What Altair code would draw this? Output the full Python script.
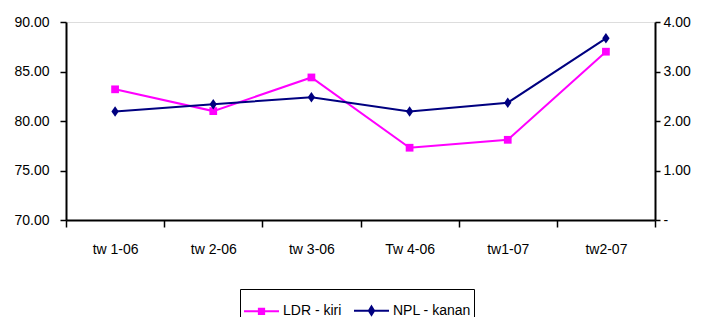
import altair as alt
import pandas as pd

categories = ["tw 1-06", "tw 2-06", "tw 3-06", "Tw 4-06", "tw1-07", "tw2-07"]
ldr = [83.2, 81.0, 84.4, 77.3, 78.1, 87.0]
npl = [2.19, 2.34, 2.48, 2.19, 2.37, 3.67]
series_names = ["LDR - kiri", "NPL - kanan"]
series_colors = ["#FF00FF", "#000080"]
left_ticks = [70, 75, 80, 85, 90]
right_ticks = [0, 1, 2, 3, 4]

wide = pd.DataFrame({"cat": categories, "ldr": ldr, "npl": npl})
long = pd.DataFrame({
    "cat": categories * 2,
    "series": [series_names[0]] * len(categories) + [series_names[1]] * len(categories),
})

FONT = "Liberation Sans"

x_enc = alt.X(
    "cat:N", sort=categories, title=None,
    scale=alt.Scale(paddingInner=0, paddingOuter=0),
    axis=alt.Axis(
        tickBand="extent", labelAngle=0, tickSize=7, labelPadding=15,
        domainColor="black", domainWidth=2, tickColor="black", tickWidth=1.5,
        labelColor="black", labelFont=FONT, labelFontSize=14, grid=False,
    ),
)

base = alt.Chart(wide)

ldr_y = alt.Y(
    "ldr:Q", title=None,
    scale=alt.Scale(domain=[70, 90], nice=False, zero=False),
    axis=alt.Axis(
        values=left_ticks, format=".2f", tickSize=6, labelPadding=11,
        domainColor="black", domainWidth=2, tickColor="black", tickWidth=1.5,
        labelColor="black", labelFont=FONT, labelFontSize=14, grid=False,
    ),
)
npl_y = alt.Y(
    "npl:Q", title=None,
    scale=alt.Scale(domain=[0, 4], nice=False),
    axis=alt.Axis(
        orient="right", values=right_ticks, tickSize=5, labelPadding=3,
        labelExpr="datum.value == 0 ? '-' : format(datum.value, '.2f')",
        domainColor="black", domainWidth=2, tickColor="black", tickWidth=1.5,
        labelColor="black", labelFont=FONT, labelFontSize=14, grid=False,
    ),
)

ldr_line = base.mark_line(color=series_colors[0], strokeWidth=2).encode(x=x_enc, y=ldr_y)
ldr_pts = base.mark_point(shape="square", filled=True, opacity=1, size=60,
                          color=series_colors[0]).encode(x=x_enc, y=ldr_y)
npl_line = base.mark_line(color=series_colors[1], strokeWidth=2).encode(x=x_enc, y=npl_y)
npl_pts = base.mark_point(shape="M0,-1L0.7,0L0,1L-0.7,0Z", filled=True, opacity=1, size=110,
                          color=series_colors[1]).encode(x=x_enc, y=npl_y)

legend_layer = alt.Chart(long).transform_filter("false").mark_point(
    filled=True, opacity=1, strokeWidth=2
).encode(
    x=alt.X("cat:N", sort=categories),
    color=alt.Color(
        "series:N",
        scale=alt.Scale(domain=series_names, range=series_colors),
        legend=alt.Legend(
            title=None, orient="none", legendX=174, legendY=267, direction="horizontal",
            symbolSize=1225, symbolStrokeWidth=2, symbolOpacity=1,
            labelFont=FONT, labelFontSize=14, labelColor="black", labelOffset=3,
            columnPadding=8, padding=3, strokeColor="black", fillColor="white",
        ),
    ),
    stroke=alt.Stroke(
        "series:N",
        scale=alt.Scale(domain=series_names, range=series_colors),
    ),
    shape=alt.Shape(
        "series:N",
        scale=alt.Scale(domain=series_names, range=[
            "M-1,0H1M-0.15,-0.15H0.15V0.15H-0.15Z",
            "M-1,0H1M0,-0.24L0.15,0L0,0.24L-0.15,0Z",
        ]),
    ),
)

left = alt.layer(ldr_line, ldr_pts)
right = alt.layer(npl_line, npl_pts)

chart = alt.layer(left, right, legend_layer).resolve_scale(y="independent").properties(
    width=589, height=198,
    autosize=alt.AutoSizeParams(type="none"),
    padding={"left": 58, "top": 14, "right": 38, "bottom": 97},
).configure_view(stroke=None).configure(background="white")

chart.save("out.html", embed_options={"renderer": "svg", "actions": False})
